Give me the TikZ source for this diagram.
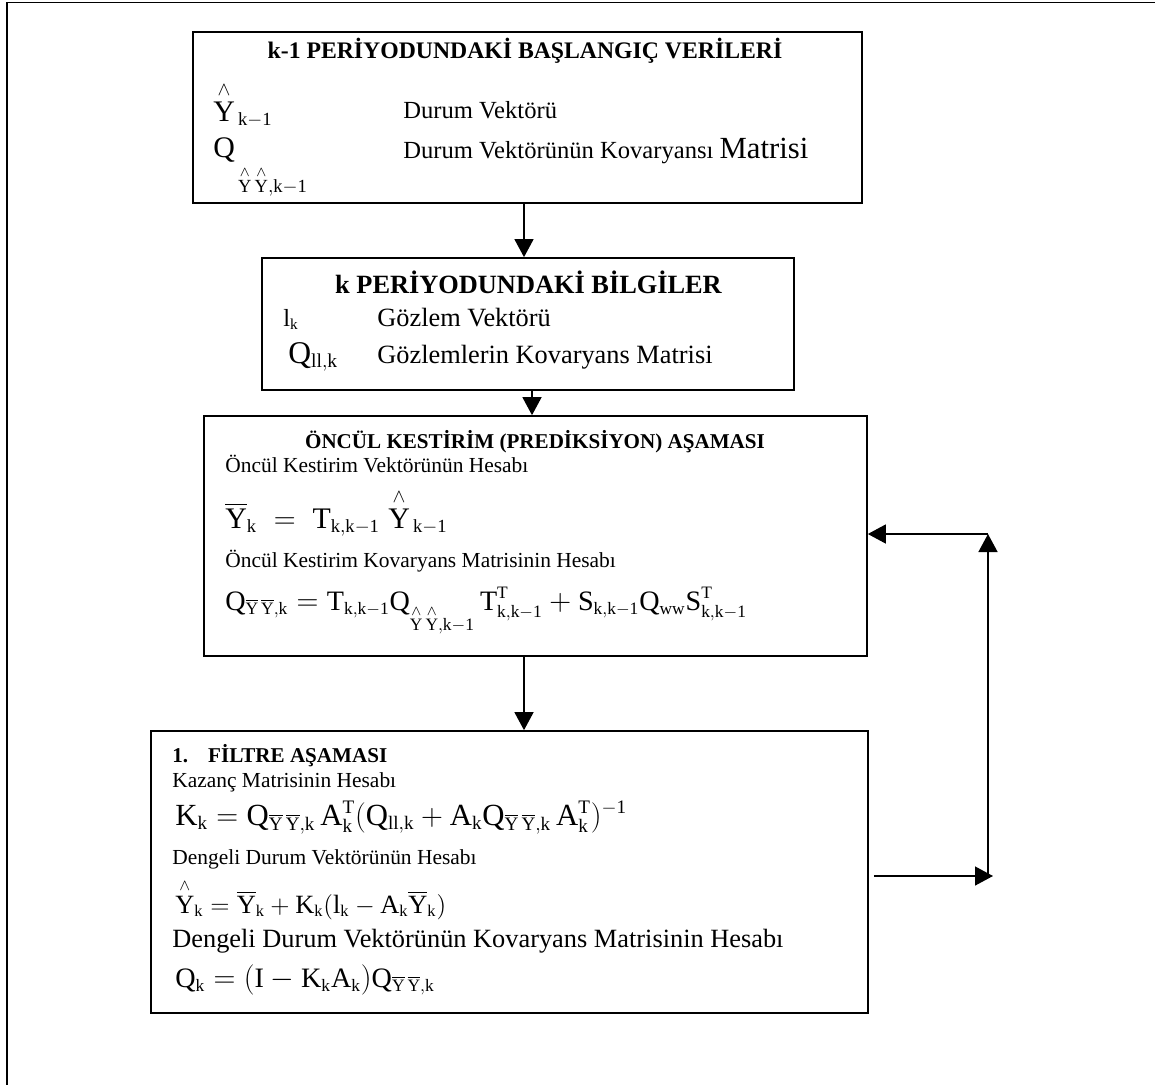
\documentclass[tikz,border=0pt]{standalone}
\usepackage{amsmath}
\usepackage{fontspec}
\setmainfont{Liberation Serif}
\setmathrm{Liberation Serif}
\usetikzlibrary{positioning,arrows.meta}
\def\defaultscriptratio{.62}
\newcommand{\rmt}[1]{\mathrm{#1}}
\newcommand{\hatY}{\overset{\wedge}{\mathrm{Y}}}
\newcommand{\barY}{\overline{\mathrm{Y}}}
\newcommand{\kmo}{\mathrm{k}-\mathrm{1}}
\newcommand{\lowsub}[2][0.55em]{\raisebox{-#1}{$\scriptstyle #2$}}

\begin{document}
\begin{tikzpicture}[x=0.02cm, y=-0.02cm,
        box/.style={draw, line width=1pt, inner sep=0pt},
        txt/.style={inner sep=0pt, anchor=base west},
        ttl/.style={inner sep=0pt, anchor=base, font=\bfseries},
        arrow/.style={-{Triangle[length=0.36cm, width=0.38cm]}, line width=0.8pt}
    ]
        \useasboundingbox (0,0) rectangle (1155,1085);
        \draw[line width=1.1pt] (1155,2.5) -- (7,2.5) -- (7,1085);
        % kutular
        \node[box, minimum width=13.38cm, minimum height=3.42cm] (init) at (527.5,117.5) {};
        \node[box, minimum width=10.64cm, minimum height=2.64cm] (obs) at (528,324) {};
        \node[box, minimum width=13.26cm, minimum height=4.80cm] (pred) at (535.5,536) {};
        \node[box, minimum width=14.34cm, minimum height=5.64cm] (filt) at (509.5,872) {};
        % k-1 periyodu
        \node[ttl, font=\bfseries\fontsize{13.5}{16}\selectfont] (initT) at (525,58) {k-1 PERİYODUNDAKİ BAŞLANGIÇ VERİLERİ};
        \node[txt, font=\fontsize{17}{20}\selectfont] (initY) at (213,121) {$\hatY_{\,\kmo}$};
        \node[txt, font=\fontsize{14}{16}\selectfont] (initYd) at (403,118) {Durum Vektörü};
        \node[txt, font=\fontsize{17}{20}\selectfont] (initQ) at (213,157) {$\rmt{Q}_{\,\lowsub[1.05em]{\hatY\,\hatY,\kmo}}$};
        \node[txt, font=\fontsize{14}{16}\selectfont] (initQd) at (403,158) {Durum Vektörünün Kovaryansı {\fontsize{17.5}{20}\selectfont Matrisi}};
        % k periyodu
        \node[ttl, font=\bfseries\fontsize{15}{18}\selectfont] (obsT) at (528.5,293) {k PERİYODUNDAKİ BİLGİLER};
        \node[txt, font=\fontsize{14}{16}\selectfont] (obsl) at (283,326) {$\rmt{l}_{\rmt{k}}$};
        \node[txt, font=\fontsize{15}{18}\selectfont] (obsld) at (377,326) {Gözlem Vektörü};
        \node[txt, font=\fontsize{18}{20}\selectfont] (obsQ) at (288,363) {$\rmt{Q}_{\rmt{ll,k}}$};
        \node[txt, font=\fontsize{15}{18}\selectfont] (obsQd) at (377,363) {Gözlemlerin Kovaryans Matrisi};
        % prediksiyon
        \node[ttl, font=\bfseries\fontsize{12}{14}\selectfont] (predT) at (535,448) {ÖNCÜL KESTİRİM (PREDİKSİYON) AŞAMASI};
        \node[txt, font=\fontsize{12.2}{14}\selectfont] (predYd) at (225,472) {Öncül Kestirim Vektörünün Hesabı};
        \node[txt, font=\fontsize{17}{20}\selectfont] (predY) at (225,528) {$\barY_{\rmt{k}} \;=\; \rmt{T}_{\rmt{k,k}-\rmt{1}}\;\hatY_{\,\kmo}$};
        \node[txt, font=\fontsize{12.2}{14}\selectfont] (predQd) at (225,567) {Öncül Kestirim Kovaryans Matrisinin Hesabı};
        \node[txt, font=\fontsize{16}{19}\selectfont] (predQ) at (225,610) {$\rmt{Q}_{\barY\,\barY,\rmt{k}} = \rmt{T}_{\rmt{k,k}-\rmt{1}}\rmt{Q}_{\lowsub{\hatY\,\hatY,\kmo}}\,\rmt{T}^{\rmt{T}}_{\rmt{k,k}-\rmt{1}} + \rmt{S}_{\rmt{k,k}-\rmt{1}}\rmt{Q}_{\rmt{ww}}\rmt{S}^{\rmt{T}}_{\rmt{k,k}-\rmt{1}}$};
        % filtre
        \node[txt, font=\bfseries\fontsize{12}{14}\selectfont] (filtT) at (172,762) {1.\hspace{0.95em}FİLTRE AŞAMASI};
        \node[txt, font=\fontsize{12.2}{14}\selectfont] (filtKd) at (172,787) {Kazanç Matrisinin Hesabı};
        \node[txt, font=\fontsize{17.5}{20}\selectfont] (filtK) at (175,825) {$\rmt{K}_{\rmt{k}} = \rmt{Q}_{\barY\,\barY,\rmt{k}}\,\rmt{A}^{\rmt{T}}_{\rmt{k}}(\rmt{Q}_{\rmt{ll,k}} + \rmt{A}_{\rmt{k}}\rmt{Q}_{\barY\,\barY,\rmt{k}}\,\rmt{A}^{\rmt{T}}_{\rmt{k}})^{-\rmt{1}}$};
        \node[txt, font=\fontsize{12.2}{14}\selectfont] (filtYd) at (172,864) {Dengeli Durum Vektörünün Hesabı};
        \node[txt, font=\fontsize{15}{18}\selectfont] (filtY) at (175,913) {$\hatY_{\rmt{k}} = \barY_{\rmt{k}} + \rmt{K}_{\rmt{k}}(\rmt{l}_{\rmt{k}} - \rmt{A}_{\rmt{k}}\barY_{\rmt{k}})$};
        \node[txt, font=\fontsize{15}{18}\selectfont] (filtQd) at (172,947) {Dengeli Durum Vektörünün Kovaryans Matrisinin Hesabı};
        \node[txt, font=\fontsize{16}{19}\selectfont] (filtQ) at (175,987) {$\rmt{Q}_{\rmt{k}} = (\rmt{I} - \rmt{K}_{\rmt{k}}\rmt{A}_{\rmt{k}})\rmt{Q}_{\barY\,\barY,\rmt{k}}$};
        % oklar
        \coordinate (loopdn) at (988,876);
        \coordinate (loopup) at (988,534);
        \draw[arrow] ([xshift=-0.07cm]init.south) -- ([xshift=-0.07cm]init.south |- obs.north);
        \draw[arrow] ([xshift=0.08cm]obs.south) -- ([xshift=0.08cm]obs.south |- pred.north);
        \draw[arrow] ([xshift=-0.23cm]pred.south) -- ([xshift=-0.23cm]pred.south |- filt.north);
        \draw[arrow] ([xshift=0.1cm]filt.east |- loopdn) -- ([xshift=0.1cm]loopdn);
        \draw[arrow] (loopdn) -- (loopup);
        \draw[arrow] (loopup) -- (loopup -| pred.east);
    \end{tikzpicture}
\end{document}
